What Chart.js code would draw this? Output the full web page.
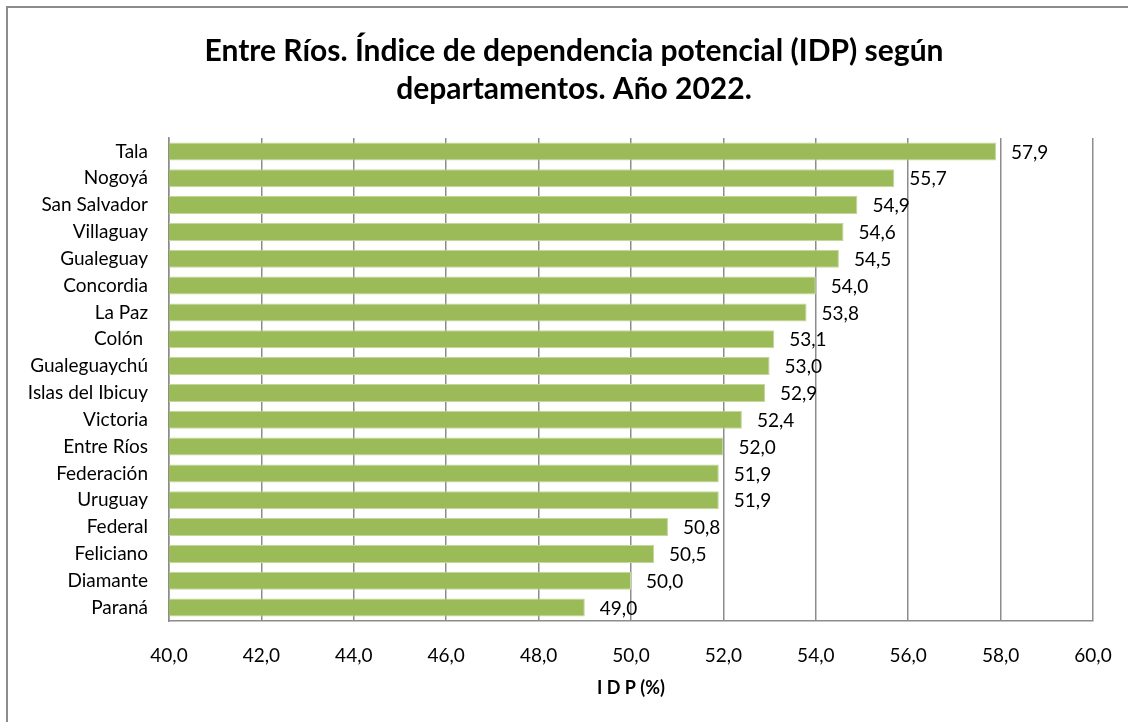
<!DOCTYPE html>
<html>
<head>
<meta charset="utf-8">
<script src="https://cdn.jsdelivr.net/npm/chart.js@4"></script>
<style>
  html, body { margin: 0; padding: 0; background: #fff; overflow: hidden; }
  #wrap { position: relative; width: 1128px; height: 722px; }
  #frame { position: absolute; left: 6px; top: 6px; width: 1200px; height: 800px;
           border: 2px solid #8c8c8c; pointer-events: none; }
</style>
</head>
<body>
<div id="wrap">
  <canvas id="chart" width="1128" height="722"></canvas>
  <div id="frame"></div>
</div>
<script>
const departamentos = ['Tala', 'Nogoyá', 'San Salvador', 'Villaguay', 'Gualeguay', 'Concordia',
  'La Paz', 'Colón ', 'Gualeguaychú', 'Islas del Ibicuy', 'Victoria', 'Entre Ríos',
  'Federación', 'Uruguay', 'Federal', 'Feliciano', 'Diamante', 'Paraná'];
const idp = [57.9, 55.7, 54.9, 54.6, 54.5, 54.0, 53.8, 53.1, 53.0, 52.9, 52.4, 52.0,
  51.9, 51.9, 50.8, 50.5, 50.0, 49.0];
const titleLines = ['Entre Ríos. Índice de dependencia potencial (IDP) según', 'departamentos. Año 2022.'];

const FONT = 'Lato, Carlito, Calibri, sans-serif';
const fmt = v => v.toFixed(1).replace('.', ',');

// titulo centrado arriba
const titlePlugin = {
  id: 'titulo',
  afterDraw(chart) {
    const ctx = chart.ctx;
    ctx.save();
    ctx.font = 'bold 30px ' + FONT;
    ctx.fillStyle = '#000';
    ctx.textAlign = 'center';
    ctx.textBaseline = 'middle';
    ctx.fillText(titleLines[0], 574, 51);
    ctx.fillText(titleLines[1], 574, 89);
    ctx.restore();
  }
};

// etiquetas de valor a la derecha de cada barra
const valueLabels = {
  id: 'valores',
  afterDatasetsDraw(chart) {
    const ctx = chart.ctx;
    const meta = chart.getDatasetMeta(0);
    ctx.save();
    ctx.font = '19px ' + FONT;
    ctx.fillStyle = '#000';
    ctx.textAlign = 'left';
    ctx.textBaseline = 'middle';
    meta.data.forEach((bar, i) => {
      ctx.fillText(fmt(idp[i]), bar.x + 15, bar.y + 1);
    });
    ctx.restore();
  }
};

new Chart(document.getElementById('chart'), {
  type: 'bar',
  data: {
    labels: departamentos,
    datasets: [{
      data: idp,
      backgroundColor: '#9bbb59',
      borderColor: '#c3d69b',
      borderWidth: 1,
      categoryPercentage: 1,
      barPercentage: 0.67
    }]
  },
  options: {
    indexAxis: 'y',
    responsive: false,
    animation: false,
    layout: { padding: { top: 138, right: 35, bottom: 0, left: 0 } },
    plugins: {
      legend: { display: false },
      tooltip: { enabled: false }
    },
    scales: {
      x: {
        min: 40,
        max: 60,
        ticks: {
          stepSize: 2,
          padding: 23,
          color: '#000',
          font: { family: FONT, size: 19 },
          callback: v => fmt(v)
        },
        grid: { color: '#8c8c8c', lineWidth: 1.5, drawTicks: false },
        border: { display: true, color: '#8c8c8c', width: 1.5 },
        title: {
          display: true,
          text: 'I D P (%)',
          color: '#000',
          font: { family: FONT, size: 18, weight: 'bold' },
          padding: { top: 4, bottom: 23 }
        },
        afterFit(scale) {
          scale.height = 722 - 621;
          scale.paddingLeft = 0;
          scale.paddingRight = 0;
        }
      },
      y: {
        ticks: {
          padding: 21,
          color: '#000',
          font: { family: FONT, size: 19 }
        },
        grid: { display: false, drawTicks: false },
        border: { display: true, color: '#8c8c8c', width: 1.5 },
        afterFit(scale) { scale.width = 169; }
      }
    }
  },
  plugins: [titlePlugin, valueLabels]
});
</script>
</body>
</html>
